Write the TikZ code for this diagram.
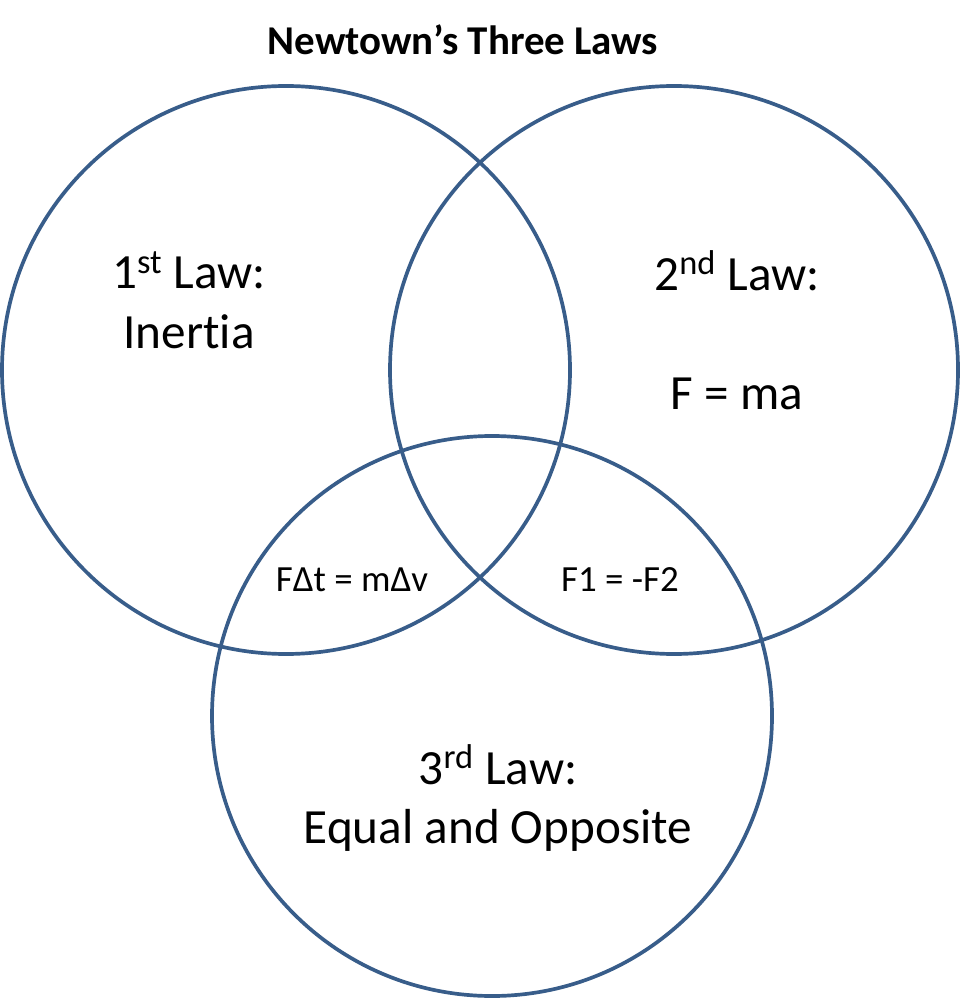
\documentclass[tikz,border=0pt]{standalone}
\usepackage{fontspec}
\setmainfont{Carlito}[Ligatures=NoCommon]
\usepackage{xcolor}
\usepackage{tikz}
\usetikzlibrary{positioning}
\definecolor{vennBlue}{RGB}{56,93,138}
\newcommand{\bigtxt}{\fontsize{28}{33.8}\selectfont}
\newcommand{\smalltxt}{\fontsize{21}{25}\selectfont}

\begin{document}
\begin{tikzpicture}[x=0.02cm, y=-0.02cm]
\useasboundingbox (0,0) rectangle (960,999);

% the three laws
\draw[vennBlue, line width=2.1pt] (286,370) circle[radius=284*0.02cm];
\draw[vennBlue, line width=2.1pt] (674,370) circle[radius=284*0.02cm];
\draw[vennBlue, line width=2.1pt] (492,716) circle[radius=280*0.02cm];

\node[font=\fontsize{23.3}{28}\selectfont\bfseries] (title) at (463,40) {Newtown’s Three Laws};

\node[font=\bigtxt, align=center] (first) at (189,300) {1\textsuperscript{st} Law:\\Inertia};
\node[font=\bigtxt, align=center] (second) at (737,330) {2\textsuperscript{nd} Law:\\[33.8pt]F = ma};
\node[font=\bigtxt, align=center] (third) at (498,798) {3\textsuperscript{rd} Law:\\Equal and Opposite};

\node[font=\smalltxt] (impulse) at (352,580) {FΔt = mΔv};
\node[font=\smalltxt] (pair) at (620,580) {F1 = -F2};
\end{tikzpicture}
\end{document}
